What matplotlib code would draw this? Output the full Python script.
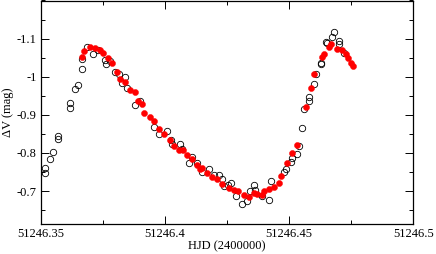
import matplotlib
matplotlib.use("Agg")
import matplotlib.pyplot as plt
from matplotlib.ticker import FixedLocator, MultipleLocator

# Open circles (one data set)
open_hjd = [51246.3517, 51246.3517, 51246.3537, 51246.3548, 51246.3568, 51246.3568,
            51246.3618, 51246.3618, 51246.3638, 51246.3650, 51246.3667, 51246.3668,
            51246.3688, 51246.3709, 51246.3731, 51246.3757, 51246.3761, 51246.3777,
            51246.3799, 51246.3816, 51246.3827, 51246.3839, 51246.3849, 51246.3880,
            51246.3898, 51246.3957, 51246.3978, 51246.4008, 51246.4023, 51246.4029,
            51246.4061, 51246.4070, 51246.4098, 51246.4109, 51246.4131, 51246.4149,
            51246.4178, 51246.4198, 51246.4218, 51246.4229, 51246.4238, 51246.4254,
            51246.4267, 51246.4288, 51246.4309, 51246.4329, 51246.4341, 51246.4357,
            51246.4363, 51246.4389, 51246.4419, 51246.4429, 51246.4480, 51246.4486,
            51246.4509, 51246.4512, 51246.4530, 51246.4540, 51246.4550, 51246.4560,
            51246.4579, 51246.4579, 51246.4600, 51246.4610, 51246.4629, 51246.4629,
            51246.4647, 51246.4651, 51246.4671, 51246.4681, 51246.4700, 51246.4700,
            51246.4721]
open_dv = [-0.760, -0.747, -0.784, -0.802, -0.844, -0.836,
           -0.931, -0.917, -0.968, -0.977, -1.021, -1.046,
           -1.078, -1.059, -1.070, -1.043, -1.034, -1.040,
           -1.013, -1.006, -0.983, -1.000, -0.971, -0.925,
           -0.936, -0.869, -0.851, -0.857, -0.835, -0.823,
           -0.823, -0.810, -0.773, -0.790, -0.773, -0.750,
           -0.759, -0.743, -0.742, -0.731, -0.712, -0.716,
           -0.720, -0.687, -0.665, -0.675, -0.699, -0.717,
           -0.703, -0.686, -0.676, -0.727, -0.750, -0.759,
           -0.776, -0.788, -0.796, -0.819, -0.866, -0.915,
           -0.947, -0.936, -0.981, -1.006, -1.036, -1.033,
           -1.091, -1.089, -1.104, -1.117, -1.095, -1.086,
           -1.063]

# Filled red circles (second data set)
red_hjd = [51246.3668, 51246.3676, 51246.3698, 51246.3719, 51246.3740, 51246.3750,
           51246.3769, 51246.3788, 51246.3808, 51246.3819, 51246.3839, 51246.3860,
           51246.3880, 51246.3890, 51246.3909, 51246.3917, 51246.3940, 51246.3958,
           51246.3978, 51246.3998, 51246.4019, 51246.4037, 51246.4058, 51246.4074,
           51246.4088, 51246.4108, 51246.4128, 51246.4141, 51246.4148, 51246.4168,
           51246.4188, 51246.4209, 51246.4230, 51246.4260, 51246.4278, 51246.4296,
           51246.4318, 51246.4337, 51246.4359, 51246.4371, 51246.4389, 51246.4399,
           51246.4418, 51246.4439, 51246.4459, 51246.4469, 51246.4490, 51246.4512,
           51246.4531, 51246.4570, 51246.4590, 51246.4600, 51246.4631, 51246.4640,
           51246.4661, 51246.4670, 51246.4691, 51246.4711, 51246.4730, 51246.4739,
           51246.4748, 51246.4758]
red_dv = [-1.053, -1.068, -1.078, -1.076, -1.069, -1.063,
          -1.049, -1.036, -1.012, -0.995, -0.985, -0.966,
          -0.960, -0.936, -0.929, -0.906, -0.895, -0.883,
          -0.864, -0.851, -0.835, -0.818, -0.809, -0.807,
          -0.794, -0.783, -0.768, -0.759, -0.761, -0.748,
          -0.738, -0.731, -0.718, -0.709, -0.703, -0.699,
          -0.690, -0.685, -0.694, -0.692, -0.690, -0.701,
          -0.705, -0.710, -0.721, -0.739, -0.773, -0.801,
          -0.820, -0.921, -0.971, -1.006, -1.053, -1.059,
          -1.078, -1.085, -1.073, -1.069, -1.060, -1.049,
          -1.036, -1.029]

x_ticks = [51246.35, 51246.4, 51246.45, 51246.5]
x_tick_labels = ["51246.35", "51246.4", "51246.45", "51246.5"]
y_ticks = [-1.1, -1.0, -0.9, -0.8, -0.7]
y_tick_labels = ["-1.1", "-1", "-0.9", "-0.8", "-0.7"]

plt.rcParams['font.family'] = ['Liberation Serif', 'DejaVu Serif']

fig = plt.figure(figsize=(4.36, 2.54), dpi=100)
ax = fig.add_axes([40.7 / 436, 30 / 254, (413.3 - 40.7) / 436, 223.5 / 254])

ax.plot(open_hjd, open_dv, linestyle='none', marker='o', ms=4.6,
        mfc='none', mec='black', mew=0.6, zorder=3)
ax.plot(red_hjd, red_dv, linestyle='none', marker='o', ms=4.4,
        mfc='red', mec='red', mew=0.3, zorder=4)

ax.set_xlim(51246.35, 51246.5)
ax.set_ylim(-0.6136, -1.2)

ax.xaxis.set_major_locator(FixedLocator(x_ticks))
ax.set_xticklabels(x_tick_labels)
ax.xaxis.set_minor_locator(MultipleLocator(0.025))
ax.yaxis.set_major_locator(FixedLocator(y_ticks))
ax.set_yticklabels(y_tick_labels)
ax.yaxis.set_minor_locator(MultipleLocator(0.05))

ax.tick_params(which='both', direction='in', top=True, right=True,
               labelsize=9, color='black', width=0.7)
ax.tick_params(which='major', length=5.5, pad=3)
ax.tick_params(which='minor', length=3)
for s in ax.spines.values():
    s.set_linewidth(0.9)

ax.set_xlabel("HJD (2400000)", fontsize=9, labelpad=0)
ax.set_ylabel("ΔV (mag)", fontsize=9, labelpad=2)

fig.savefig("out.png", dpi=100)
